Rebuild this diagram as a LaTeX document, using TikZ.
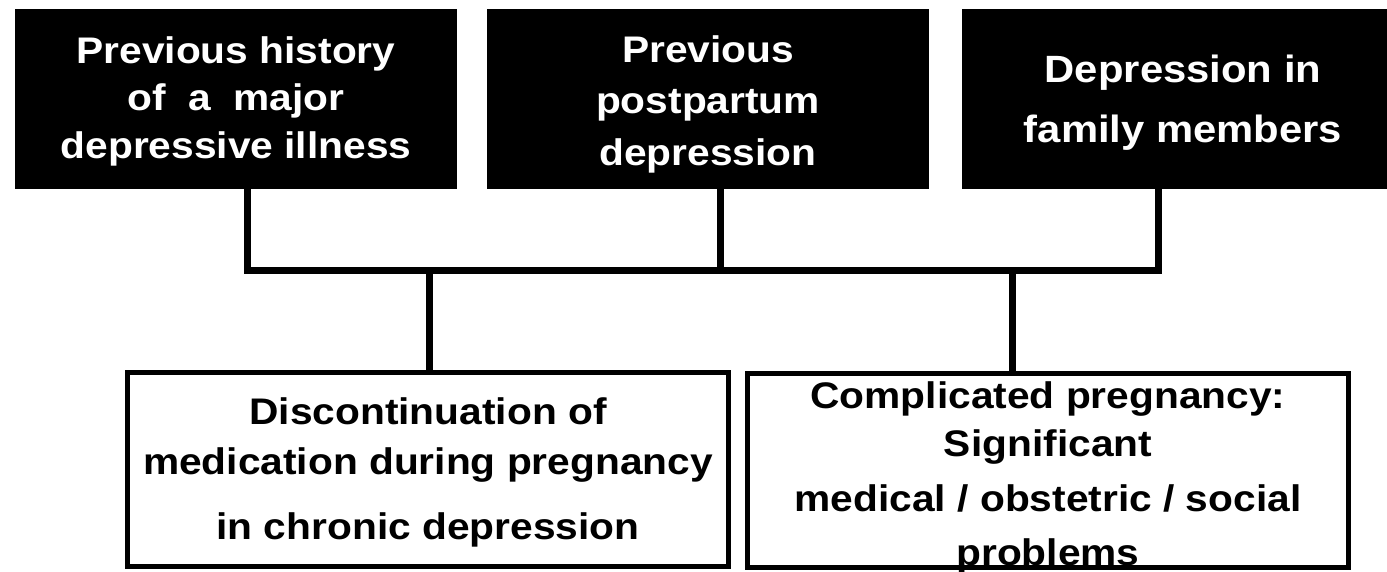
\documentclass[tikz,border=0pt]{standalone}
\usepackage{fontspec}
\setmainfont{Liberation Sans}
\newfontfamily\widesans[FakeStretch=1.1]{Liberation Sans}
\begin{document}
\begin{tikzpicture}[x=1pt,y=-1pt,
  topbox/.style={draw=black, line width=1pt, fill=black,
    minimum width=441pt, minimum height=179pt, inner sep=0pt},
  botbox/.style={draw=black, line width=5pt, fill=white,
    minimum width=601pt, minimum height=194pt, inner sep=0pt},
  toptext/.style={text=white, inner sep=0pt, align=center},
  bottext/.style={text=black, inner sep=0pt, align=center},
  conn/.style={draw=black, line width=7pt, line join=miter}]
\useasboundingbox (0,0) rectangle (1387,572);
% top boxes
\node[topbox] (b1) at (236,99) {};
\node[topbox] (b2) at (708,99) {};
\node[topbox] (b3) at (1183,99) {};
\node[toptext, font=\widesans\bfseries\fontsize{37}{47.5}\selectfont, yshift=-2pt] (t1) at (b1.center)
  {Previous history\\of\ \ a\ \ major\\depressive illness};
\node[toptext, font=\widesans\bfseries\fontsize{37}{51.5}\selectfont, yshift=-5pt] (t2) at (b2.center)
  {Previous\\postpartum\\depression};
\node[toptext, font=\widesans\bfseries\fontsize{38}{60}\selectfont, yshift=-4pt] (t3) at (b3.center)
  {Depression in\\family members};
% bottom boxes
\node[botbox] (b4) at (428,469.5) {};
\node[botbox] (b5) at (1048,470) {};
\node[bottext, font=\widesans\bfseries\fontsize{37}{50}\selectfont, yshift=-3pt] (t4) at (b4.center)
  {Discontinuation of\\medication during pregnancy\\[15pt]in chronic depression};
\node[bottext, font=\widesans\bfseries\fontsize{37}{48}\selectfont, yshift=-7pt] (t5) at (b5.center)
  {Complicated pregnancy:\\Significant\\[7pt]medical / obstetric / social\\[6pt]problems};
% junction points
\coordinate (j1) at (247,270);
\coordinate (j2) at (720,270);
\coordinate (j3) at (1158,270);
\coordinate (j4) at (429,270);
\coordinate (j5) at (1012,270);
% connectors
\draw[conn] (b1.south -| j1) -- (j1) -- (j3) -- (b3.south -| j3);
\draw[conn] (b2.south -| j2) -- (j2);
\draw[conn] (j4) -- (b4.north -| j4);
\draw[conn] (j5) -- (b5.north -| j5);
\end{tikzpicture}
\end{document}
